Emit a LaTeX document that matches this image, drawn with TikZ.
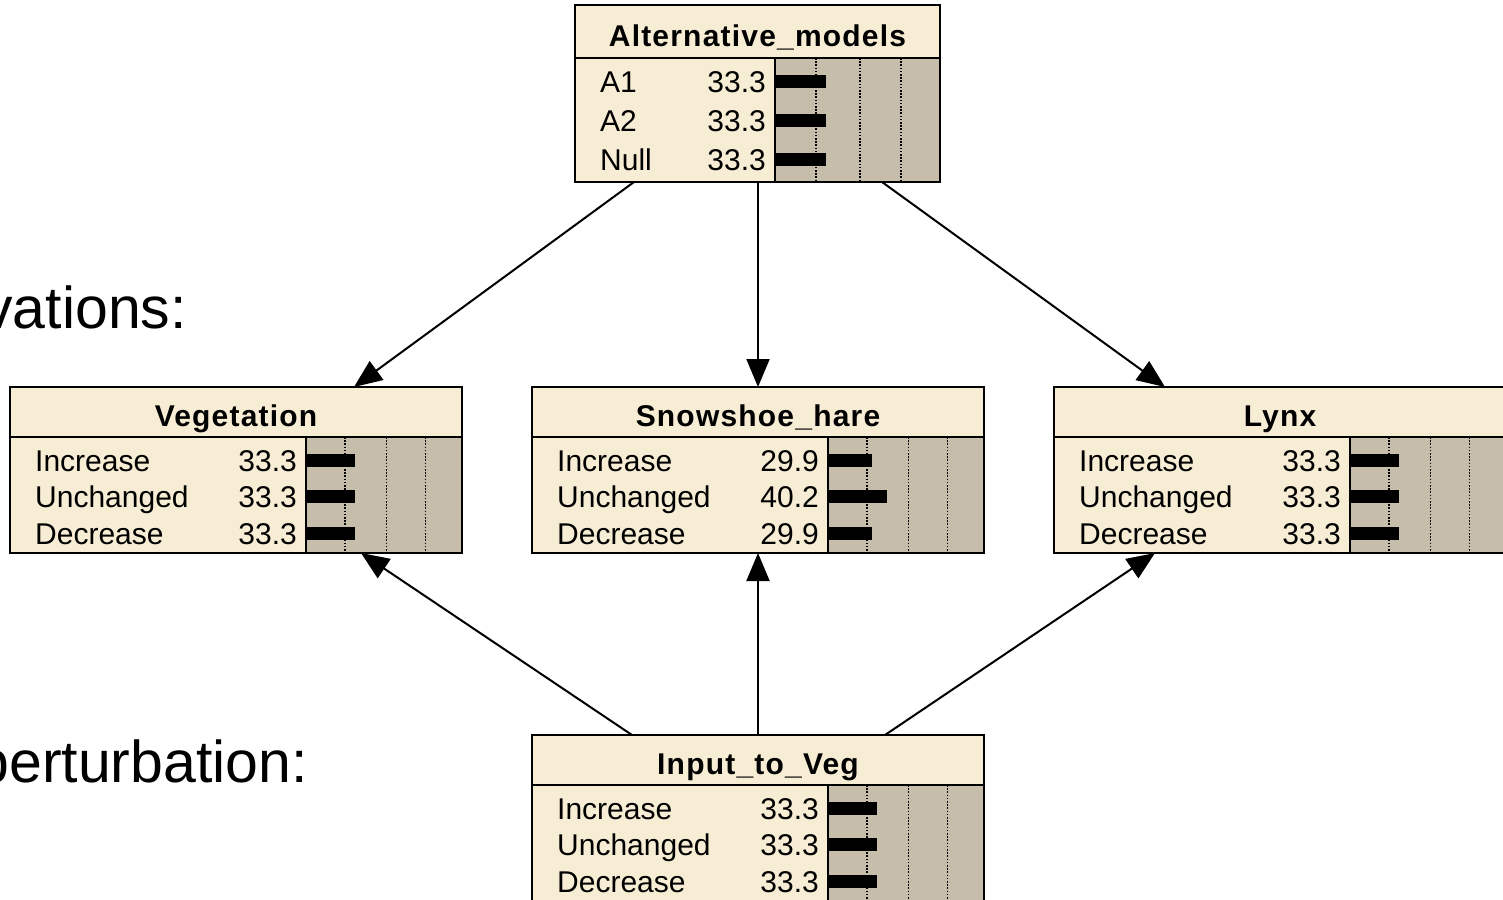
\documentclass[tikz,border=0pt]{standalone}
\usepackage{fontspec}
\setmainfont{Liberation Sans}
\newfontfamily\titlefont[LetterSpace=4]{Liberation Sans}
\usetikzlibrary{arrows.meta}
\definecolor{cream}{HTML}{F7EDD4}
\definecolor{barbg}{HTML}{C6BEAA}
\tikzset{
  bnframe/.style={fill=cream, draw=none, inner sep=0pt, outer sep=0pt, anchor=north west},
  bnborder/.style={draw=black, line width=2pt},
  sepline/.style={draw=black, line width=2pt},
  dotline/.style={draw=black, line width=1.6pt, dash pattern=on 1.6pt off 1.6pt},
  titletext/.style={font=\titlefont\bfseries\fontsize{30}{36}\selectfont, anchor=base, inner sep=0pt},
  rowtext/.style={font=\fontsize{30}{36}\selectfont, inner sep=0pt},
  bigtext/.style={font=\fontsize{59}{70}\selectfont, inner sep=0pt},
  arr/.style={draw=black, line width=2pt, -{Triangle[length=28pt,width=23pt]}}
}
% #1 name, #2 x, #3 y, #4 width, #5 height, #6 title height, #7 bar offset, #8 title
\newcommand\bnbox[8]{%
  \begin{scope}[shift={(#2,#3)}]
    \node[bnframe, minimum width=#4pt, minimum height=#5pt] (#1) at (0,0) {};
    \fill[barbg] (#7,#6) rectangle (#4,#5);
    \foreach \f in {0.25,0.515,0.765}
      \draw[dotline] ({#7+\f*(#4-#7)},#6) -- ({#7+\f*(#4-#7)},#5);
    \draw[sepline] (0,#6) -- (#4,#6);
    \draw[sepline] (#7,#6) -- (#7,#5);
    \node[titletext] (#1-title) at ({#4/2},{#6-11}) {#8};
    \draw[bnborder] (#1.north west) rectangle (#1.south east);
  \end{scope}}
% #1 x, #2 y, #3 bar offset, #4 first row y, #5 pitch, #6 bar scale, #7 list
\newcommand\bnrows[7]{%
  \begin{scope}[shift={(#1,#2)}]
    \foreach [count=\i] \lab/\val in {#7} {
      \pgfmathsetmacro\ry{#4+(\i-1)*#5}
      \node[rowtext, anchor=base west] at (25,{\ry+11}) {\lab};
      \node[rowtext, anchor=base east] at ({#3-9},{\ry+11}) {\val};
      \fill[black] (#3,{\ry-6.5}) rectangle ({#3+#6*\val},{\ry+6.5});
    }
  \end{scope}}
\begin{document}
\begin{tikzpicture}[x=1pt,y=-1pt]
  \useasboundingbox (0,0) rectangle (1503,899);
  \clip (0,0) rectangle (1503,899);

  \node[bigtext, anchor=base east] (obs) at (187,328) {vations:};
  \node[bigtext, anchor=base east] (pert) at (308,782) {perturbation:};

  \bnbox{alt}{575}{5}{365}{177}{53}{200}{Alternative\_models}
  \bnrows{575}{5}{200}{76}{39}{1.53}{A1/33.3, A2/33.3, Null/33.3}

  \bnbox{veg}{10}{387}{452}{166}{50}{296}{Vegetation}
  \bnrows{10}{387}{296}{73}{36.5}{1.47}{Increase/33.3, Unchanged/33.3, Decrease/33.3}

  \bnbox{hare}{532}{387}{452}{166}{50}{296}{Snowshoe\_hare}
  \bnrows{532}{387}{296}{73}{36.5}{1.47}{Increase/29.9, Unchanged/40.2, Decrease/29.9}

  \bnbox{lynx}{1054}{387}{452}{166}{50}{296}{Lynx}
  \bnrows{1054}{387}{296}{73}{36.5}{1.47}{Increase/33.3, Unchanged/33.3, Decrease/33.3}

  \bnbox{input}{532}{735}{452}{166}{50}{296}{Input\_to\_Veg}
  \bnrows{532}{735}{296}{73}{36.5}{1.47}{Increase/33.3, Unchanged/33.3, Decrease/33.3}

  \draw[arr] ([xshift=59pt]alt.south west) -- ([xshift=344pt]veg.north west);
  \draw[arr] ([xshift=183pt]alt.south west) -- ([xshift=226pt]hare.north west);
  \draw[arr] ([xshift=307pt]alt.south west) -- ([xshift=111pt]lynx.north west);
  \draw[arr] ([xshift=100pt]input.north west) -- ([xshift=351pt]veg.south west);
  \draw[arr] ([xshift=226pt]input.north west) -- ([xshift=226pt]hare.south west);
  \draw[arr] ([xshift=353pt]input.north west) -- ([xshift=101pt]lynx.south west);
\end{tikzpicture}
\end{document}
